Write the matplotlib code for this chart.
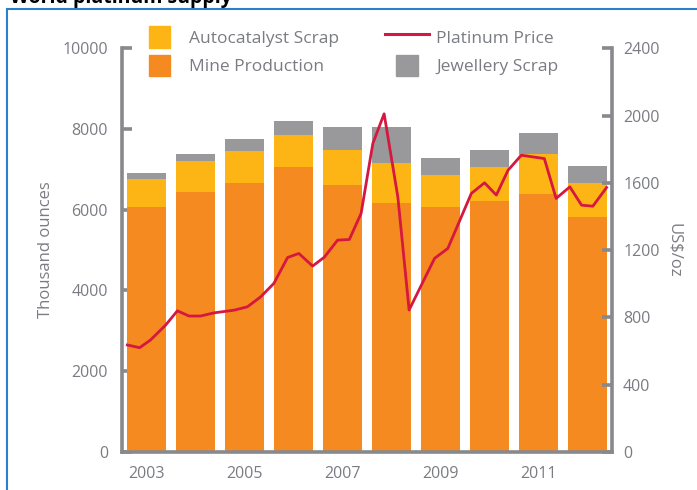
import matplotlib.pyplot as plt
from matplotlib.legend_handler import HandlerPatch
from matplotlib.lines import Line2D
from matplotlib.patches import Patch, Rectangle

# supply, thousand ounces
years = [2003, 2004, 2005, 2006, 2007, 2008, 2009, 2010, 2011, 2012]
mine_production = [6060, 6450, 6650, 7050, 6600, 6160, 6060, 6210, 6400, 5810]
autocatalyst_scrap = [690, 750, 800, 800, 890, 990, 790, 840, 990, 840]
jewellery_scrap = [170, 190, 290, 340, 550, 890, 440, 440, 500, 440]

# platinum price, US$/oz
price_dates = [2002.61, 2002.86, 2003.08, 2003.39, 2003.63, 2003.87, 2004.10,
               2004.38, 2004.79, 2005.06, 2005.33, 2005.60, 2005.88, 2006.11,
               2006.39, 2006.63, 2006.90, 2007.14, 2007.38, 2007.62, 2007.85,
               2008.13, 2008.36, 2008.88, 2009.15, 2009.63, 2009.90, 2010.14,
               2010.38, 2010.65, 2011.12, 2011.36, 2011.64, 2011.88, 2012.11,
               2012.39]
price = [636, 620, 665, 754, 839, 808, 808, 827, 843, 863, 922, 1002, 1156,
         1180, 1105, 1158, 1259, 1263, 1418, 1834, 2010, 1516, 844, 1151, 1210,
         1537, 1600, 1527, 1675, 1764, 1744, 1507, 1576, 1467, 1461, 1572]

year_ticks = [2003, 2005, 2007, 2009, 2011]

c_mine = "#f58a20"
c_auto = "#fdb515"
c_jewel = "#99999c"
c_price = "#d6173f"
c_axis = "#88898c"
c_text = "#7a7c82"

plt.rcParams["font.family"] = ["Open Sans", "DejaVu Sans"]

fig = plt.figure(figsize=(6.97, 4.9), dpi=100)
ax = fig.add_axes([0.175, 0.0776, 0.703, 0.824])

bottom2 = [m + a for m, a in zip(mine_production, autocatalyst_scrap)]
ax.bar(years, mine_production, width=0.78, color=c_mine, zorder=2)
ax.bar(years, autocatalyst_scrap, width=0.78, bottom=mine_production,
       color=c_auto, zorder=2)
ax.bar(years, jewellery_scrap, width=0.78, bottom=bottom2, color=c_jewel,
       zorder=2)

ax.set_xlim(2002.5, 2012.5)
ax.set_ylim(0, 10000)
ax.set_yticks(range(0, 10001, 2000))
ax.set_xticks(year_ticks)
ax.set_ylabel("Thousand ounces", color=c_text, fontsize=12, labelpad=6)

ax2 = ax.twinx()
ax2.plot(price_dates, price, color=c_price, lw=2, zorder=3)
ax2.set_ylim(0, 2400)
ax2.set_yticks(range(0, 2401, 400))
ax2.set_ylabel("US$/oz", color=c_text, fontsize=12, rotation=-90, labelpad=16)

for a in (ax, ax2):
    for s in a.spines.values():
        s.set_visible(False)
ax.spines["left"].set_visible(True)
ax.spines["bottom"].set_visible(True)
ax2.spines["right"].set_visible(True)
for s in (ax.spines["left"], ax.spines["bottom"], ax2.spines["right"]):
    s.set_color(c_axis)
    s.set_linewidth(2.6)
    s.set_zorder(5)

ax.tick_params(axis="y", direction="in", length=7, width=2.6, color=c_axis,
               labelcolor=c_text, labelsize=11.5, pad=10)
ax.tick_params(axis="x", length=0, labelcolor=c_text, labelsize=11.5, pad=10)
ax2.tick_params(axis="y", direction="in", length=7, width=2.6, color=c_axis,
                labelcolor=c_text, labelsize=11.5, pad=8)


def square_patch(legend, orig_handle, xdescent, ydescent, width, height, fontsize):
    side = height * 0.98
    return Rectangle((-xdescent + (width - side) / 2, -ydescent), side, side)


handles = [Patch(color=c_auto), Patch(color=c_mine),
           Line2D([], [], color=c_price, lw=2.2), Patch(color=c_jewel)]
labels = ["Autocatalyst Scrap", "Mine Production", "Platinum Price",
          "Jewellery Scrap"]
leg = ax2.legend(handles, labels, ncol=2, loc="upper left",
                 bbox_to_anchor=(138 / 697, 1 - 26 / 490),
                 bbox_transform=fig.transFigure, frameon=False, fontsize=12.5,
                 handlelength=2.5, handleheight=1.55, columnspacing=2.65,
                 labelspacing=0.38, handletextpad=0.45, borderpad=0,
                 borderaxespad=0,
                 handler_map={Patch: HandlerPatch(patch_func=square_patch)})
for t in leg.get_texts():
    t.set_color(c_text)

# blue frame and clipped title
fig.patches.append(Rectangle((0.01, -0.05), 1.1, 1.032, transform=fig.transFigure,
                             fill=False, edgecolor="#2a7fc8", lw=1.5))
fig.text(0.014, 0.993, "World platinum supply", fontsize=14, weight="bold",
         va="baseline", ha="left")

fig.savefig("out.png", dpi=100)
